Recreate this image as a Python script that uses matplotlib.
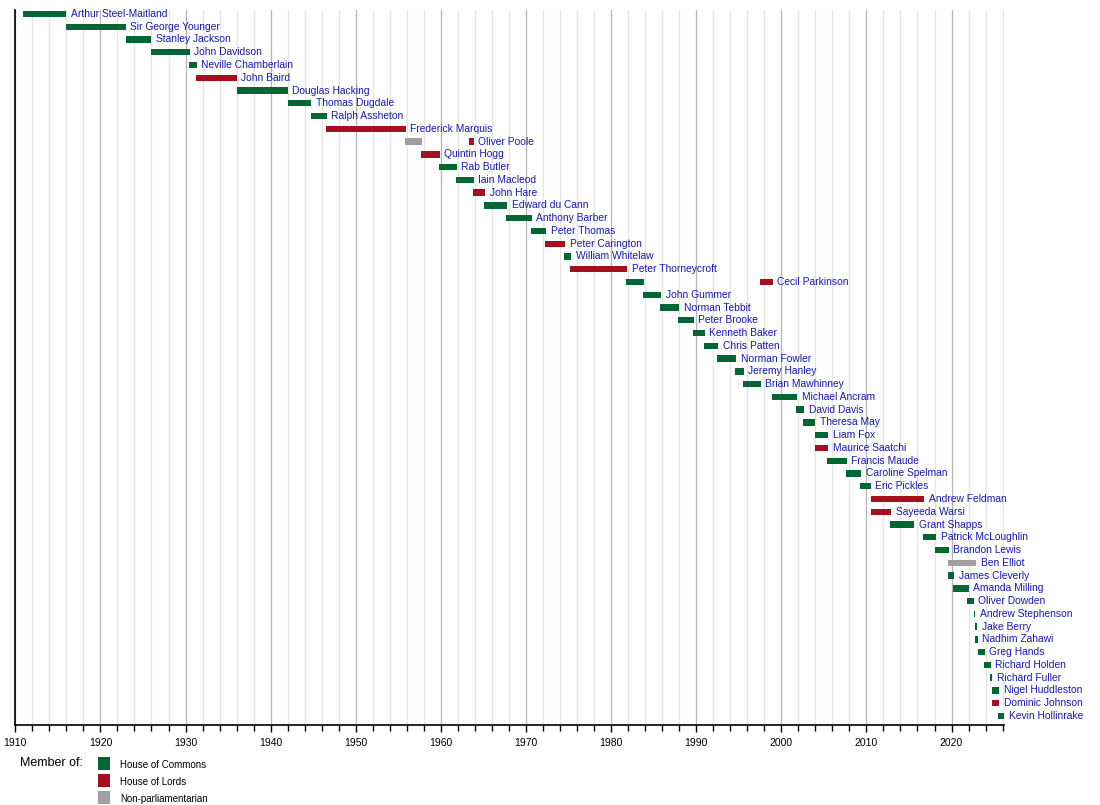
import numpy as np
import matplotlib.pyplot as plt
from matplotlib.patches import Rectangle
from matplotlib.ticker import MultipleLocator

plt.rcParams['font.family'] = ['Liberation Sans', 'DejaVu Sans']

# chairmen, in order from top to bottom
names = ["Arthur Steel-Maitland", "Sir George Younger", "Stanley Jackson", "John Davidson",
         "Neville Chamberlain", "John Baird", "Douglas Hacking", "Thomas Dugdale",
         "Ralph Assheton", "Frederick Marquis", "Oliver Poole", "Quintin Hogg",
         "Rab Butler", "Iain Macleod", "John Hare", "Edward du Cann", "Anthony Barber",
         "Peter Thomas", "Peter Carington", "William Whitelaw", "Peter Thorneycroft",
         "Cecil Parkinson", "John Gummer", "Norman Tebbit", "Peter Brooke",
         "Kenneth Baker", "Chris Patten", "Norman Fowler", "Jeremy Hanley",
         "Brian Mawhinney", "Michael Ancram", "David Davis", "Theresa May", "Liam Fox",
         "Maurice Saatchi", "Francis Maude", "Caroline Spelman", "Eric Pickles",
         "Andrew Feldman", "Sayeeda Warsi", "Grant Shapps", "Patrick McLoughlin",
         "Brandon Lewis", "Ben Elliot", "James Cleverly", "Amanda Milling",
         "Oliver Dowden", "Andrew Stephenson", "Jake Berry", "Nadhim Zahawi",
         "Greg Hands", "Richard Holden", "Richard Fuller", "Nigel Huddleston",
         "Dominic Johnson", "Kevin Hollinrake"]

# labelled term (years as decimals)
start = [1910.9, 1916.0, 1923.0, 1926.0, 1930.4, 1931.2, 1936.0, 1942.0, 1944.8, 1946.5,
         1963.3, 1957.7, 1959.8, 1961.8, 1963.8, 1965.1, 1967.7, 1970.6, 1972.2, 1974.5,
         1975.2, 1997.5, 1983.7, 1985.7, 1987.9, 1989.6, 1990.9, 1992.4, 1994.6, 1995.5,
         1998.9, 2001.7, 2002.6, 2003.9, 2004.0, 2005.4, 2007.6, 2009.3, 2010.5, 2010.5,
         2012.8, 2016.7, 2018.1, 2019.6, 2019.6, 2020.2, 2021.8, 2022.6, 2022.7, 2022.8,
         2023.1, 2023.8, 2024.5, 2024.7, 2024.7, 2025.5]
end = [1916.0, 1923.0, 1926.0, 1930.5, 1931.3, 1936.0, 1942.0, 1944.8, 1946.6, 1955.9,
       1963.9, 1959.9, 1961.9, 1963.9, 1965.2, 1967.8, 1970.7, 1972.4, 1974.6, 1975.3,
       1981.9, 1999.0, 1985.9, 1988.0, 1989.7, 1991.0, 1992.6, 1994.7, 1995.6, 1997.6,
       2001.9, 2002.7, 2004.0, 2005.5, 2005.5, 2007.7, 2009.4, 2010.5, 2016.8, 2012.9,
       2015.6, 2018.2, 2019.7, 2022.9, 2020.3, 2022.0, 2022.6, 2022.8, 2023.0, 2023.1,
       2023.9, 2024.6, 2024.8, 2025.6, 2025.6, 2026.2]
# C = Commons, L = Lords, N = non-parliamentarian
house = ["C", "C", "C", "C", "C", "L", "C", "C", "C", "L",
         "L", "L", "C", "C", "L", "C", "C", "C", "L", "C",
         "L", "L", "C", "C", "C", "C", "C", "C", "C", "C",
         "C", "C", "C", "C", "L", "C", "C", "C", "L", "L",
         "C", "C", "C", "N", "C", "C", "C", "C", "C", "C",
         "C", "C", "C", "C", "L", "C"]

# earlier, unlabelled terms
extra_row = [10, 21]
extra_start = [1955.8, 1981.8]
extra_end = [1957.8, 1983.9]
extra_house = ["N", "C"]

colors = {"C": "#006633", "L": "#a50f1e", "N": "#a0a0a0"}
text_color = "#1818b8"

fig = plt.figure(figsize=(11, 8.05), dpi=100)
ax = fig.add_axes([15.3 / 1100, 1 - 725.3 / 805, (1004.3 - 15.3) / 1100, (725.3 - 10) / 805])

bar_h = 0.5
for i in range(len(names)):
    ax.add_patch(Rectangle((start[i], i - bar_h / 2), end[i] - start[i], bar_h,
                           color=colors[house[i]], lw=0, zorder=3))
    ax.annotate(names[i], (end[i], i), xytext=(3.2, 0), textcoords="offset points",
                va="center", ha="left", fontsize=7.4, color=text_color, zorder=4)
for r, s, e, h in zip(extra_row, extra_start, extra_end, extra_house):
    ax.add_patch(Rectangle((s, r - bar_h / 2), e - s, bar_h, color=colors[h], lw=0, zorder=3))

ax.set_xlim(1910, 2026.2)
ax.set_ylim(len(names) - 1 + 0.73, -0.31)
ax.xaxis.set_major_locator(MultipleLocator(10))
ax.xaxis.set_minor_locator(MultipleLocator(2))
ax.grid(which="major", axis="x", color="#b4b4b4", lw=0.9, zorder=0)
ax.grid(which="minor", axis="x", color="#e4e4e4", lw=0.9, zorder=0)
ax.set_yticks([])
ax.spines["top"].set_visible(False)
ax.spines["right"].set_visible(False)
ax.spines["left"].set_linewidth(1.2)
ax.spines["bottom"].set_linewidth(1.2)
ax.tick_params(axis="x", which="major", length=5, width=1, labelsize=7.5, pad=4)
ax.tick_params(axis="x", which="minor", length=4, width=1)

# legend
fig.text(20 / 1100, 1 - 763 / 805, "Member of:", fontsize=9, va="center", ha="left")
leg_labels = ["House of Commons", "House of Lords", "Non-parliamentarian"]
leg_keys = ["C", "L", "N"]
for k, (lab, key) in enumerate(zip(leg_labels, leg_keys)):
    y_top = 757 + k * 17.2
    fig.patches.append(Rectangle((98 / 1100, 1 - (y_top + 12.5) / 805), 12 / 1100, 12.5 / 805,
                                 transform=fig.transFigure, color=colors[key], lw=0))
    fig.text(120 / 1100, 1 - (y_top + 8) / 805, lab, fontsize=7, va="center", ha="left")

fig.savefig("out.png", dpi=100)
